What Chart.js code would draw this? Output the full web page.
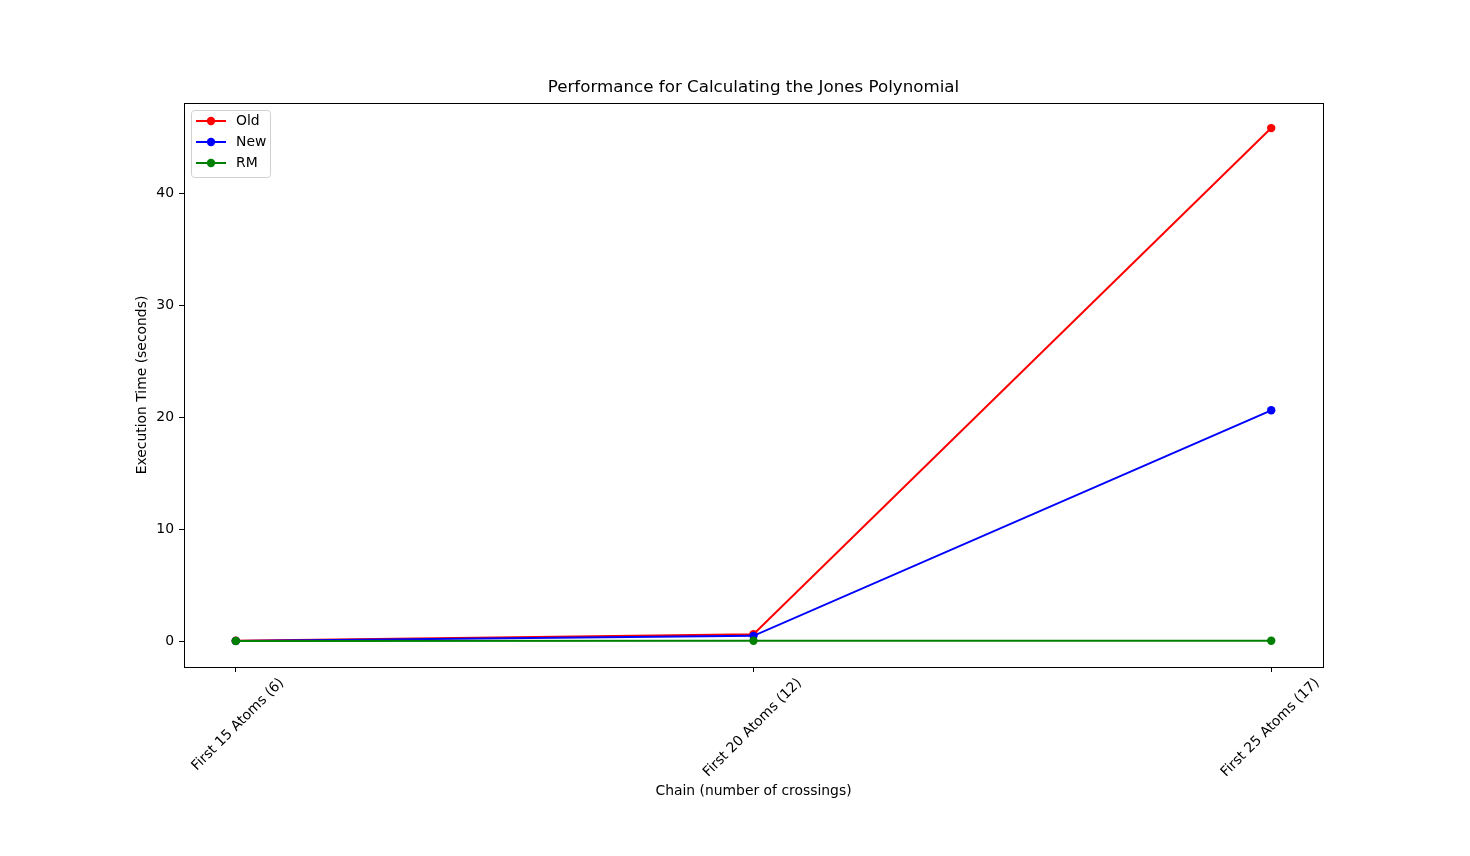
<!DOCTYPE html>
<html>
<head>
<meta charset="utf-8">
<script src="https://cdn.jsdelivr.net/npm/chart.js@4.4.0/dist/chart.umd.min.js"></script>
<style>
    html, body { margin: 0; padding: 0; background: #fff; }
    #wrap { width: 1470px; height: 856px; position: relative; }
</style>
</head>
<body>
<div id="wrap"><canvas id="jonesChart" width="1470" height="856"></canvas></div>
<script>
const chains = ['First 15 Atoms (6)', 'First 20 Atoms (12)', 'First 25 Atoms (17)'];
const oldTimes = [0.02, 0.6, 45.8];
const newTimes = [0.01, 0.46, 20.6];
const rmTimes = [0.005, 0.02, 0.03];
const yTicks = [0, 10, 20, 30, 40];

const FONT = "'DejaVu Sans', sans-serif";

/**
 *
 * @param {array} values one value per chain
 */
const toPoints = (values) => values.map((v, i) => ({ x: i, y: v }));

// frame, title and legend drawn the matplotlib way
const framePlugin = {
    id: 'frame',
    afterDraw(chart) {
        const { ctx, chartArea: a } = chart;
        ctx.save();
        ctx.strokeStyle = '#000';
        ctx.lineWidth = 1;
        ctx.strokeRect(a.left + 0.5, a.top + 0.5, a.right - a.left, a.bottom - a.top);

        ctx.fillStyle = '#000';
        ctx.font = '16.7px ' + FONT;
        ctx.textAlign = 'center';
        ctx.textBaseline = 'middle';
        ctx.fillText('Performance for Calculating the Jones Polynomial', (a.left + a.right) / 2, 88);

        // legend box
        const bx = 191, by = 110, bw = 79, bh = 67;
        ctx.fillStyle = 'rgba(255,255,255,0.8)';
        ctx.strokeStyle = '#d0d0d0';
        ctx.beginPath();
        ctx.roundRect(bx + 0.5, by + 0.5, bw, bh, 3);
        ctx.fill();
        ctx.stroke();
        chart.data.datasets.forEach((ds, i) => {
            const y = 121 + i * 21;
            ctx.strokeStyle = ds.borderColor;
            ctx.lineWidth = 2;
            ctx.beginPath();
            ctx.moveTo(196, y);
            ctx.lineTo(226, y);
            ctx.stroke();
            ctx.fillStyle = ds.borderColor;
            ctx.beginPath();
            ctx.arc(211, y, 4.2, 0, Math.PI * 2);
            ctx.fill();
            ctx.fillStyle = '#000';
            ctx.font = '13.9px ' + FONT;
            ctx.textAlign = 'left';
            ctx.fillText(ds.label, 236, y);
        });
        ctx.restore();
    },
};

const makeSet = (label, values, color, order) => ({
    label: label,
    data: toPoints(values),
    borderColor: color,
    backgroundColor: color,
    pointBackgroundColor: color,
    pointBorderWidth: 0,
    pointRadius: 4.2,
    borderWidth: 2,
    tension: 0,
    order: order,
});

const ctx = document.getElementById('jonesChart');
const myChart = new Chart(ctx, {
    type: 'line',
    data: {
        datasets: [
            makeSet('Old', oldTimes, 'rgb(255,0,0)', 3),
            makeSet('New', newTimes, 'rgb(0,0,255)', 2),
            makeSet('RM', rmTimes, 'rgb(0,128,0)', 1),
        ],
    },
    plugins: [framePlugin],
    options: {
        responsive: false,
        animation: false,
        devicePixelRatio: 1,
        layout: {
            padding: { left: 0, top: 103, right: 147, bottom: 0 },
        },
        plugins: {
            legend: { display: false },
            title: { display: false },
            tooltip: { enabled: false },
        },
        scales: {
            x: {
                type: 'linear',
                min: -0.1,
                max: 2.1,
                afterBuildTicks: (scale) => {
                    scale.ticks = chains.map((c, i) => ({ value: i }));
                },
                afterFit: (scale) => {
                    scale.height = 189;
                },
                ticks: {
                    color: '#000',
                    font: { family: FONT, size: 13.9 },
                    minRotation: 45,
                    maxRotation: 45,
                    padding: 3,
                    labelOffset: 46,
                    callback: (v) => chains[v],
                },
                grid: {
                    drawOnChartArea: false,
                    drawTicks: true,
                    tickLength: 5,
                    color: '#000',
                },
                border: { display: true, color: '#000' },
                title: {
                    display: true,
                    text: 'Chain (number of crossings)',
                    color: '#000',
                    font: { family: FONT, size: 13.9 },
                    padding: { top: 4, bottom: 56 },
                },
            },
            y: {
                min: -2.32,
                max: 48.04,
                afterBuildTicks: (scale) => {
                    scale.ticks = yTicks.map((v) => ({ value: v }));
                },
                afterFit: (scale) => {
                    scale.width = 184;
                },
                ticks: {
                    color: '#000',
                    font: { family: FONT, size: 13.9 },
                    padding: 5,
                },
                grid: {
                    drawOnChartArea: false,
                    drawTicks: true,
                    tickLength: 5,
                    color: '#000',
                },
                border: { display: true, color: '#000' },
                title: {
                    display: true,
                    text: 'Execution Time (seconds)',
                    color: '#000',
                    font: { family: FONT, size: 13.9 },
                    padding: { top: 134, bottom: 0 },
                },
            },
        },
    },
});
</script>
</body>
</html>
